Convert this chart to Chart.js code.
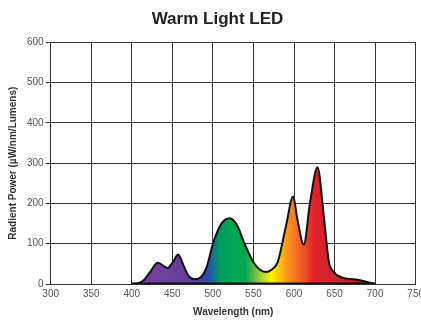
<!DOCTYPE html>
<html>
<head>
<meta charset="utf-8">
<script src="https://cdn.jsdelivr.net/npm/chart.js@4"></script>
<style>
  html, body { margin: 0; padding: 0; background: #fff; overflow: hidden; }
  #wrap { width: 428px; height: 320px; }
</style>
</head>
<body>
<div id="wrap"><canvas id="spectrum-graph"></canvas></div>
<script>
var wavelengths = [400, 408, 415, 422, 432, 444, 451, 457, 464, 470, 477, 485, 492, 500, 510, 521, 530, 538, 551, 565, 572, 580, 590, 599, 604, 612, 620, 629, 637, 643, 648, 658, 680, 700];
var power = [0, 2, 10, 28, 53, 40, 55, 73, 45, 20, 12, 17, 40, 100, 148, 163, 145, 105, 51, 30, 35, 55, 143, 217, 163, 98, 205, 290, 163, 55, 32, 17, 10, 0];
var xTicks = [300, 350, 400, 450, 500, 550, 600, 650, 700, 750];
var yTicks = [0, 100, 200, 300, 400, 500, 600];

// colour stops along the visible spectrum (nm -> colour)
var spectrumStops = [
    [400, '#7b3f9e'], [450, '#6b3f9c'], [475, '#5a3f9b'], [488, '#3b3f9d'],
    [497, '#1f5aa8'], [508, '#009a63'], [520, '#00a651'], [540, '#00a651'],
    [556, '#8dc63f'], [572, '#fff200'], [592, '#f7941d'], [610, '#f15a29'],
    [625, '#e3202a'], [650, '#c8262c'], [700, '#a51d22']
];

var font = "'Liberation Sans Narrow', 'Liberation Sans', Arial, sans-serif";

function spectrumFill(context) {
    var chart = context.chart;
    var area = chart.chartArea;
    if (!area) return null;
    var xs = chart.scales.x;
    var x0 = xs.getPixelForValue(wavelengths[0]);
    var x1 = xs.getPixelForValue(wavelengths[wavelengths.length - 1]);
    var g = chart.ctx.createLinearGradient(x0, 0, x1, 0);
    spectrumStops.forEach(function (s) {
        var t = (s[0] - wavelengths[0]) / (wavelengths[wavelengths.length - 1] - wavelengths[0]);
        g.addColorStop(Math.min(1, Math.max(0, t)), s[1]);
    });
    return g;
}

document.addEventListener('DOMContentLoaded', function () {
    var ctx = document.getElementById('spectrum-graph').getContext('2d');

    var points = wavelengths.map(function (w, i) { return { x: w, y: power[i] }; });
    var base = [
        { x: wavelengths[0], y: 0 },
        { x: wavelengths[wavelengths.length - 1], y: 0 }
    ];

    new Chart(ctx, {
        type: 'line',
        data: {
            datasets: [{
                label: 'Radiant Power',
                data: points,
                borderColor: '#111',
                borderWidth: 2,
                backgroundColor: spectrumFill,
                fill: 'origin',
                pointRadius: 0,
                cubicInterpolationMode: 'monotone',
                order: 2
            }, {
                label: 'Base',
                data: base,
                borderColor: '#111',
                borderWidth: 3,
                pointRadius: 0,
                fill: false,
                order: 1
            }]
        },
        options: {
            responsive: true,
            maintainAspectRatio: false,
            animation: false,
            layout: { padding: { left: 7, right: 0, top: 0, bottom: 2 } },
            plugins: {
                legend: { display: false },
                tooltip: { enabled: false },
                title: {
                    display: true,
                    text: 'Warm Light LED',
                    color: '#222',
                    font: { family: font, size: 17, weight: 'bold' },
                    padding: { top: 9, bottom: 13 }
                }
            },
            scales: {
                x: {
                    type: 'linear',
                    min: xTicks[0],
                    max: xTicks[xTicks.length - 1],
                    afterBuildTicks: function (axis) {
                        axis.ticks = xTicks.map(function (v) { return { value: v }; });
                    },
                    grid: { color: '#333', lineWidth: 1, drawTicks: false },
                    border: { color: '#333', width: 1 },
                    ticks: { color: '#555', font: { family: font, size: 10 }, padding: 4, maxRotation: 0 },
                    title: {
                        display: true,
                        text: 'Wavelength (nm)',
                        color: '#333',
                        font: { family: font, size: 10, weight: 'bold' },
                        padding: { top: 2, bottom: 0 }
                    }
                },
                y: {
                    min: yTicks[0],
                    max: yTicks[yTicks.length - 1],
                    afterBuildTicks: function (axis) {
                        axis.ticks = yTicks.map(function (v) { return { value: v }; });
                    },
                    grid: { color: '#333', lineWidth: 1, tickLength: 5 },
                    border: { color: '#333', width: 1 },
                    ticks: { color: '#555', font: { family: font, size: 10 }, padding: 2 },
                    title: {
                        display: true,
                        text: 'Radient Power (µW/nm/Lumens)',
                        color: '#333',
                        font: { family: font, size: 10, weight: 'bold' },
                        padding: { top: 0, bottom: 6 }
                    }
                }
            }
        }
    });
});
</script>
</body>
</html>
